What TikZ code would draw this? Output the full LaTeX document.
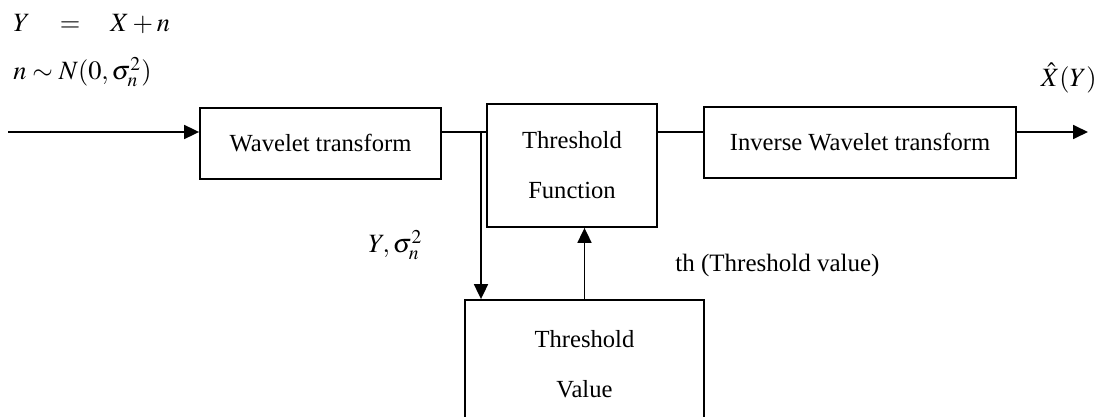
\documentclass[tikz,border=0pt]{standalone}
\usepackage{mathptmx}
\usepackage{fontspec}
\setmainfont{Liberation Serif}
\usetikzlibrary{arrows.meta}

\tikzset{
  block/.style={draw,line width=0.9pt,fill=white,font=\fontsize{12.3}{25}\selectfont,align=center,inner sep=0pt},
  link/.style={line width=0.9pt},
  flow/.style={line width=0.9pt,-{Triangle[length=7.5pt,width=7pt]}},
  lbl/.style={anchor=west,inner sep=0pt,font=\fontsize{12.5}{14}\selectfont},
  mlbl/.style={lbl,font=\fontsize{13.2}{15}\selectfont}
}

\begin{document}
\begin{tikzpicture}[x=0.5pt,y=-0.5pt]
\clip (0,0) rectangle (1099,417);

% Model of the noisy signal
\node[mlbl] (eqy) at (13,24) {$Y\hspace{12pt}=\hspace{12pt}X+n$};
\node[mlbl] (eqn) at (13,72) {$n\sim N(0,\sigma_n^2)$};

% Blocks
\node[block,minimum width=120.5pt,minimum height=35.5pt] (wt) at (320.5,143.5) {Wavelet transform};
\node[block,minimum width=85pt,minimum height=61.5pt] (tf) at (572,165.5) {Threshold\\Function};
\node[block,minimum width=119.5pt,minimum height=64pt] (tv) at (584.5,364) {Threshold\\Value};
\node[block,minimum width=156pt,minimum height=35.5pt] (iwt) at (860,142.5) {Inverse Wavelet transform};

% Signal path
\coordinate (in) at (8,132);
\coordinate (out) at (1088,132);
\coordinate (split) at (481,132);
\draw[flow] (in) -- (in -| wt.west);
\draw[link] (wt.east |- in) -- (tf.west |- in);
\draw[link] (tf.east |- in) -- (iwt.west |- in);
\draw[flow] (iwt.east |- out) -- (out);

% Threshold estimation
\draw[flow] (split) -- (split |- tv.north);
\draw[flow] (tv.north) -- (tv.north |- tf.south);

% Labels
\node[mlbl] (ysig) at (368,245) {$Y,\sigma_n^2$};
\node[lbl] (thval) at (675,265) {th (Threshold value)};
\node[mlbl,anchor=east] (xhat) at (1097,78) {$\hat{X}(Y)$};
\end{tikzpicture}
\end{document}
